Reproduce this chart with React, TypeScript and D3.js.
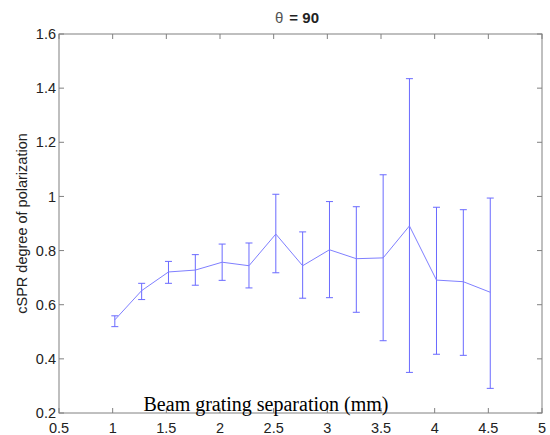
import React from "react";
import * as d3 from "d3";

const separation = [1.02, 1.27, 1.52, 1.77, 2.02, 2.27, 2.52, 2.77, 3.02, 3.27, 3.52, 3.765, 4.017, 4.267, 4.518];
const meanDop = [0.544, 0.652, 0.721, 0.728, 0.757, 0.744, 0.861, 0.744, 0.803, 0.770, 0.773, 0.891, 0.691, 0.685, 0.646];
const upperDop = [0.559, 0.679, 0.760, 0.785, 0.824, 0.828, 1.008, 0.869, 0.981, 0.962, 1.080, 1.435, 0.960, 0.951, 0.994];
const lowerDop = [0.519, 0.619, 0.679, 0.672, 0.690, 0.662, 0.718, 0.624, 0.626, 0.572, 0.467, 0.350, 0.417, 0.413, 0.291];
const xTicks = [0.5, 1, 1.5, 2, 2.5, 3, 3.5, 4, 4.5, 5];
const yTicks = [0.2, 0.4, 0.6, 0.8, 1, 1.2, 1.4, 1.6];

const W = 550, H = 435;
const M = { left: 59, right: 542, top: 34, bottom: 413 };

export default function App() {
  const x = d3.scaleLinear().domain([0.5, 5]).range([M.left, M.right]);
  const y = d3.scaleLinear().domain([0.2, 1.6]).range([M.bottom, M.top]);
  const pts = separation.map((s, i) => [s, meanDop[i]] as [number, number]);
  const line = d3.line<[number, number]>().x(d => x(d[0])).y(d => y(d[1]));
  const axisColor = "#808080";
  const tickLen = 5;
  const fmt = (v: number) => String(+v.toFixed(1));
  const cap = 3.5;
  const font = "Arial, 'Liberation Sans', sans-serif";
  return (
    <svg width={W} height={H} style={{ position: "absolute", left: 0, top: 0, background: "#fff" }}>
      <rect x={0} y={0} width={W} height={H} fill="#fff" />
      <rect x={M.left} y={M.top} width={M.right - M.left} height={M.bottom - M.top} fill="none" stroke={axisColor} strokeWidth={1} />
      {xTicks.map(t => (
        <g key={"x" + t}>
          <line x1={x(t)} x2={x(t)} y1={M.bottom} y2={M.bottom - tickLen} stroke={axisColor} />
          <line x1={x(t)} x2={x(t)} y1={M.top} y2={M.top + tickLen} stroke={axisColor} />
          <text x={x(t)} y={433} textAnchor="middle" fontFamily={font} fontSize={14.5} fill="#222">{fmt(t)}</text>
        </g>
      ))}
      {yTicks.map(t => (
        <g key={"y" + t}>
          <line x1={M.left} x2={M.left + tickLen} y1={y(t)} y2={y(t)} stroke={axisColor} />
          <line x1={M.right} x2={M.right - tickLen} y1={y(t)} y2={y(t)} stroke={axisColor} />
          <text x={56} y={y(t)} dy="0.35em" textAnchor="end" fontFamily={font} fontSize={14.5} fill="#222">{fmt(t)}</text>
        </g>
      ))}
      {separation.map((s, i) => (
        <g key={"e" + i} stroke="#6a6aff" strokeWidth={1}>
          <line x1={x(s)} x2={x(s)} y1={y(lowerDop[i])} y2={y(upperDop[i])} />
          <line x1={x(s) - cap} x2={x(s) + cap} y1={y(lowerDop[i])} y2={y(lowerDop[i])} />
          <line x1={x(s) - cap} x2={x(s) + cap} y1={y(upperDop[i])} y2={y(upperDop[i])} />
        </g>
      ))}
      <path d={line(pts) || ""} fill="none" stroke="#7f7fff" strokeWidth={1} />
      <text x={297} y={23} textAnchor="middle" fontFamily={font} fontSize={15} fill="#222">
        <tspan fontWeight="normal" fill="#555">θ</tspan>
        <tspan fontWeight="bold" dx={6}>= 90</tspan>
      </text>
      <text transform={`translate(27, ${(M.top + M.bottom) / 2}) rotate(-90)`} textAnchor="middle" fontFamily={font} fontSize={14.5} fill="#222">cSPR degree of polarization</text>
      <text x={266} y={411} textAnchor="middle" fontFamily="'Times New Roman', 'Liberation Serif', serif" fontSize={20} fill="#000">Beam grating separation (mm)</text>
    </svg>
  );
}
